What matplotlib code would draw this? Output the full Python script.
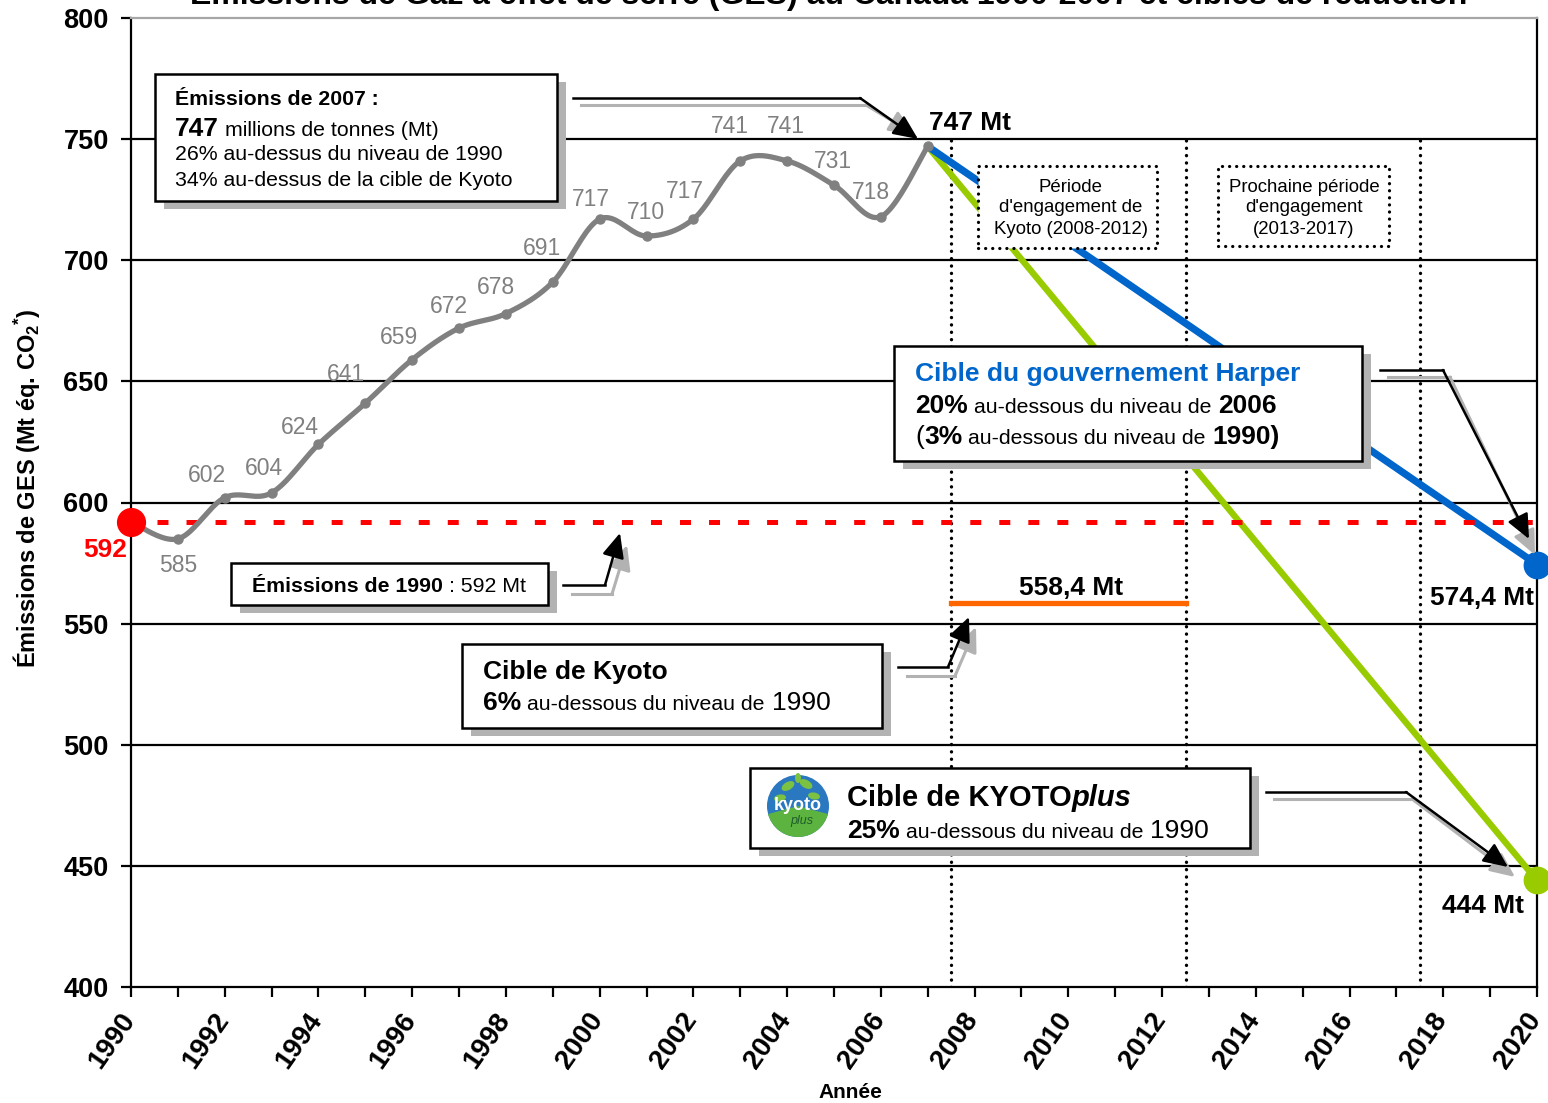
import numpy as np
import matplotlib
matplotlib.use('Agg')
import matplotlib.pyplot as plt
from matplotlib.transforms import IdentityTransform, ScaledTranslation
from matplotlib.patches import Rectangle, FancyArrowPatch, Circle, Wedge, Ellipse
from matplotlib.lines import Line2D

plt.rcParams['font.family'] = ['Liberation Sans', 'DejaVu Sans']
plt.rcParams['mathtext.fontset'] = 'custom'
plt.rcParams['mathtext.rm'] = 'Liberation Sans'
plt.rcParams['mathtext.bf'] = 'Liberation Sans:bold'
plt.rcParams['lines.scale_dashes'] = False

# ---------------- data ----------------
years = list(range(1990, 2008))
emissions = [592, 585, 602, 604, 624, 641, 659, 672, 678, 691,
             717, 710, 717, 741, 741, 731, 718, 747]
base_1990 = 592
kyoto_target = 558.4
kyoto_period = [2007.5, 2012.5]
harper_target = 574.4
kyotoplus_target = 444
start_year = 2007
target_year = 2020
period_bounds = [2007.5, 2012.5, 2017.5]
xtick_years = list(range(1990, 2021))
yticks = [400, 450, 500, 550, 600, 650, 700, 750, 800]

title = "Émissions de Gaz à effet de serre (GES) au Canada 1990-2007 et cibles de réduction"

# label offsets (pixels) for the grey value labels, years 1991..2006
label_offsets = [(0, -27), (-18, 22), (-8, 24), (-19, 17), (-19, 29), (-13, 22),
                 (-10, 22), (-10, 26), (-11, 34), (-9, 20), (-1, 24), (-9, 28),
                 (-10, 34), (-1, 34), (-1, 24), (-10, 24)]

GREY = '#808080'
BLUE = '#0066cc'
GREEN = '#99cc00'
ORANGE = '#ff6600'
RED = '#ff0000'
SHADOW = '#b2b2b2'

W, H = 1548, 1103
fig = plt.figure(figsize=(W / 100, H / 100), dpi=100)
ax = fig.add_axes([131 / W, 1 - 987 / H, (1537 - 131) / W, (987 - 18) / H])
ax.set_xlim(1990, 2020)
ax.set_ylim(400, 800)
IT = IdentityTransform()


def catmull_rom(xs, ys, n=24):
    xs = np.asarray(xs, float)
    ys = np.asarray(ys, float)
    px = np.concatenate([[xs[0]], xs, [xs[-1]]])
    py = np.concatenate([[ys[0]], ys, [ys[-1]]])
    t = np.linspace(0, 1, n)
    outx, outy = [], []
    for i in range(len(xs) - 1):
        for p, out in ((px, outx), (py, outy)):
            p0, p1, p2, p3 = p[i], p[i + 1], p[i + 2], p[i + 3]
            c = 0.5 * (2 * p1 + (-p0 + p2) * t + (2 * p0 - 5 * p1 + 4 * p2 - p3) * t ** 2
                       + (-p0 + 3 * p1 - 3 * p2 + p3) * t ** 3)
            out.extend(c if i == 0 else c[1:])
    return np.array(outx), np.array(outy)


# ---------------- axes styling ----------------
for s in ['left', 'bottom', 'right']:
    ax.spines[s].set_color('black')
    ax.spines[s].set_linewidth(1.6)
ax.spines['top'].set_color('#a6a6a6')
ax.spines['top'].set_linewidth(1.6)
ax.hlines(yticks[1:-1], 1990, 2020, colors='black', lw=1.6, zorder=1)

ax.set_yticks(yticks)
ax.set_yticklabels([str(v) for v in yticks], fontsize=19.5, fontweight='bold')
ax.set_xticks(xtick_years)
ax.set_xticklabels([str(y) if y % 2 == 0 else '' for y in xtick_years],
                   fontsize=20, fontweight='bold', rotation=55,
                   ha='right', va='top', rotation_mode='anchor')
ax.tick_params(axis='y', length=7, width=1.6, pad=9, direction='out')
ax.tick_params(axis='x', length=7, width=1.6, pad=8, direction='out')
shift = ScaledTranslation(-12 / 100, 0, fig.dpi_scale_trans)
for lab in ax.get_xticklabels():
    lab.set_transform(lab.get_transform() + shift)

# ---------------- period lines ----------------
for xb in period_bounds:
    ax.plot([xb, xb], [400, 750], color='black', lw=2.4, dashes=(0.1, 5.2),
            dash_capstyle='round', zorder=3)

# ---------------- target lines ----------------
ax.plot([start_year, target_year], [emissions[-1], kyotoplus_target], color=GREEN, lw=4.6,
        zorder=4, solid_capstyle='butt')
ax.plot([start_year, target_year], [emissions[-1], harper_target], color=BLUE, lw=5.2,
        zorder=4, solid_capstyle='butt')
ax.plot(kyoto_period, [kyoto_target, kyoto_target], color=ORANGE, lw=3.8, zorder=4)
ax.plot([1990.55, target_year], [base_1990, base_1990], color=RED, lw=3.6,
        dashes=(7.9, 13), zorder=4)

# ---------------- emissions curve ----------------
sx, sy = catmull_rom(years, emissions)
ax.plot(sx, sy, color=GREY, lw=3.8, zorder=5, solid_capstyle='round')
ax.plot(years, emissions, 'o', color=GREY, ms=6.5, zorder=6)

ax.plot([1990], [base_1990], 'o', color=RED, ms=20, zorder=7, clip_on=False)
ax.plot([target_year], [harper_target], 'o', color=BLUE, ms=19, zorder=7, clip_on=False)
ax.plot([target_year], [kyotoplus_target], 'o', color=GREEN, ms=19, zorder=7, clip_on=False)

for yr, v, (dx, dy) in zip(years[1:-1], emissions[1:-1], label_offsets):
    ax.annotate(str(v), (yr, v), xytext=(dx, dy), textcoords='offset pixels',
                ha='center', va='center', color=GREY, fontsize=16.5, zorder=6)

bold_lbl = dict(textcoords='offset pixels', ha='center', va='center',
                fontsize=19, fontweight='bold', zorder=7, annotation_clip=False)
ax.annotate(str(base_1990), (1990, base_1990), xytext=(-26, -28), color=RED, **bold_lbl)
ax.annotate(f"{emissions[-1]} Mt", (start_year, emissions[-1]), xytext=(42, 23), **bold_lbl)
ax.annotate(f"{harper_target:.1f} Mt".replace('.', ','), (target_year, harper_target),
            xytext=(-55, -33), **bold_lbl)
ax.annotate(f"{kyotoplus_target} Mt", (target_year, kyotoplus_target), xytext=(-54, -26), **bold_lbl)
ax.annotate(f"{kyoto_target:.1f} Mt".replace('.', ','), (np.mean(kyoto_period), kyoto_target),
            xytext=(3, 15), **bold_lbl)

# ---------------- figure-level helpers ----------------

def rect(x0, y0, x1, y1, fc, ec, lw, z, **kw):
    r = Rectangle((x0, H - y1), x1 - x0, y1 - y0, facecolor=fc, edgecolor=ec, lw=lw,
                  transform=IT, zorder=z, **kw)
    fig.add_artist(r)
    return r


def box(x0, y0, x1, y1):
    rect(x0 + 9, y0 + 8, x1 + 9, y1 + 8, SHADOW, 'none', 0, 8)
    rect(x0, y0, x1, y1, 'white', 'black', 1.8, 9)


def dotted_box(x0, y0, x1, y1):
    rect(x0, y0, x1, y1, 'white', 'black', 2.3, 9, linestyle=(0, (0.1, 5.0)),
         capstyle='round')


def ptext(x, y, s, **kw):
    return fig.text(x, H - y, s, transform=IT, **kw)


def rich(x, y, pieces, z=11):
    r = fig.canvas.get_renderer()
    cx = x
    for (s, size, weight, style, color, sp) in pieces:
        if sp:
            cx += 0.278 * size * 100 / 72
        t = fig.text(cx, H - y, s, transform=IT, fontsize=size, fontweight=weight,
                     fontstyle=style, color=color, ha='left', va='baseline', zorder=z)
        bb = t.get_window_extent(renderer=r)
        cx = bb.x1


def callout(black_pts, grey_pts):
    for pts, col, lw, z in ((grey_pts, SHADOW, 2.2, 9.5), (black_pts, 'black', 1.8, 10)):
        xs = [p[0] for p in pts[:-1]]
        ys = [H - p[1] for p in pts[:-1]]
        fig.add_artist(Line2D(xs, ys, color=col, lw=lw, transform=IT, zorder=z,
                              solid_joinstyle='miter'))
        a = FancyArrowPatch((pts[-2][0], H - pts[-2][1]), (pts[-1][0], H - pts[-1][1]),
                            arrowstyle='-|>,head_length=1.0,head_width=0.45',
                            mutation_scale=15, color=col, lw=lw, transform=IT,
                            shrinkA=0, shrinkB=0, zorder=z)
        fig.add_artist(a)


# ---------------- title & axis labels ----------------
ptext(829, 4, title, fontsize=23, fontweight='bold', ha='center', va='baseline')
ptext(850, 1092, 'Année', fontsize=15, fontweight='bold', ha='center', va='center')
ptext(27, 488, r'Émissions de GES (Mt éq. CO$_\mathbf{2}$$^\mathbf{*}$)', fontsize=17,
      fontweight='bold', rotation=90, ha='center', va='center')

# ---------------- boxes ----------------
N, B = 'normal', 'bold'
# 2007 box
box(155, 74, 557, 201)
rich(175, 105, [('Émissions de 2007 :', 15.3, B, N, 'black', False)])
rich(175, 135.5, [('747', 19, B, N, 'black', False),
                  ('millions de tonnes (Mt)', 15.3, N, N, 'black', True)])
rich(175, 160.5, [('26% au-dessus du niveau de 1990', 15.3, N, N, 'black', False)])
rich(175, 185.5, [('34% au-dessus de la cible de Kyoto', 15.3, N, N, 'black', False)])
callout([(573, 98), (860, 98), (918, 139)], [(581, 105), (866, 105), (914, 134)])

# periods
dotted_box(978, 166, 1157, 248)
for yy, s in zip([187, 208, 230], ['Période', "d'engagement de", 'Kyoto (2008-2012)']):
    ptext(1071, yy, s, fontsize=13.4, ha='center', va='center', zorder=11)
dotted_box(1218, 166, 1389, 246)
for yy, s in zip([187, 208, 230], ['Prochaine période', "d'engagement", '(2013-2017)']):
    ptext(1304, yy, s, fontsize=13.4, ha='center', va='center', zorder=11)

# Harper box
box(894, 346, 1362, 461)
rich(915, 381.5, [('Cible du gouvernement Harper', 19, B, N, BLUE, False)])
rich(915, 413, [('20%', 19, B, N, 'black', False),
                ('au-dessous du niveau de', 15.3, N, N, 'black', True),
                ('2006', 19, B, N, 'black', True)])
rich(915, 444, [('(', 19, N, N, 'black', False),
                ('3%', 19, B, N, 'black', False),
                ('au-dessous du niveau de', 15.3, N, N, 'black', True),
                ('1990)', 19, B, N, 'black', True)])
callout([(1380, 370), (1443, 370), (1529, 539)], [(1388, 377), (1450, 377), (1535, 555)])

# 1990 box
box(231, 563, 548, 605)
rich(252, 592.5, [('Émissions de 1990', 15.3, B, N, 'black', False),
                  (': 592 Mt', 15.3, N, N, 'black', True)])
callout([(563, 585), (605, 585), (620, 533)], [(572, 594), (612, 594), (627, 545)])

# Kyoto box
box(462, 644, 882, 728)
rich(483, 679.5, [('Cible de Kyoto', 19, B, N, 'black', False)])
rich(483, 710, [('6%', 19, B, N, 'black', False),
                ('au-dessous du niveau de', 15.3, N, N, 'black', True),
                ('1990', 19, N, N, 'black', True)])
callout([(898, 667), (948, 667), (969, 617)], [(907, 676), (955, 676), (976, 627)])

# KYOTOplus box
box(750, 768, 1250, 848)
rich(847, 805.5, [('Cible de KYOTO', 21, B, N, 'black', False),
                  ('plus', 21, B, 'italic', 'black', False)])
rich(847, 837.5, [('25%', 19, B, N, 'black', False),
                  ('au-dessous du niveau de', 15.3, N, N, 'black', True),
                  ('1990', 19, N, N, 'black', True)])
callout([(1266, 792), (1406, 792), (1508, 867)], [(1274, 799), (1412, 799), (1515, 877)])

# logo
cx, cy = 798, H - 806
fig.add_artist(Circle((cx, cy), 31, transform=IT, fc='#2a78c0', ec='none', zorder=10))
fig.add_artist(Wedge((cx, cy), 31, 195, 345, transform=IT, fc='#5db33f', ec='none', zorder=10.2))
for (ex, ey, w, h, ang) in [(-10, 20, 14, 8, 30), (8, 22, 14, 8, -30), (-18, 8, 12, 7, 10),
                            (16, 10, 12, 7, -10), (0, 28, 10, 6, 90)]:
    fig.add_artist(Ellipse((cx + ex, cy + ey), w, h, angle=ang, transform=IT,
                           fc='#7cc242', ec='none', zorder=10.3))
fig.text(cx, cy + 1, 'kyoto', transform=IT, fontsize=13, fontweight='bold', color='white',
         ha='center', va='center', zorder=10.5)
fig.text(cx + 4, cy - 15, 'plus', transform=IT, fontsize=9, fontstyle='italic',
         color='#1d5e2a', ha='center', va='center', zorder=10.5)

fig.savefig('out.png', dpi=100)
